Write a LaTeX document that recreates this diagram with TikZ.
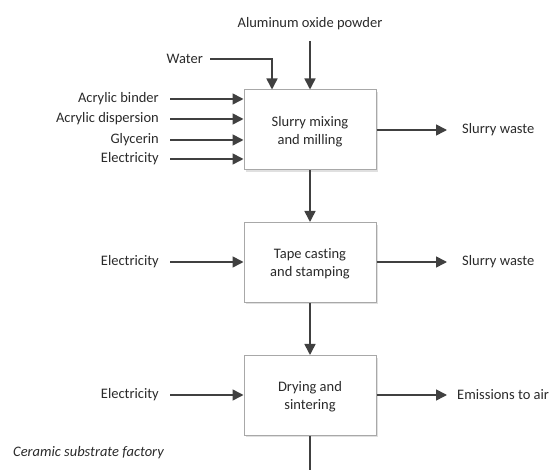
\documentclass[tikz,border=0pt]{standalone}
\usepackage{fontspec}
\setmainfont[Ligatures=NoCommon]{Carlito}
\usetikzlibrary{arrows.meta}
\definecolor{linecol}{HTML}{404040}
\definecolor{boxcol}{HTML}{A8A8A8}
\definecolor{txtcol}{HTML}{2A2A2A}
\begin{document}
\begin{tikzpicture}[x=1pt,y=-1pt,
  every node/.style={text=txtcol,font=\fontsize{14.5}{18}\selectfont},
  procbox/.style={draw=boxcol,line width=1pt,fill=white,minimum width=132pt,minimum height=80pt,align=center,inner sep=0pt},
  flow/.style={draw=linecol,line width=1.6pt,-{Triangle[length=11pt,width=11pt]}},
  plainflow/.style={draw=linecol,line width=1.6pt},
  lbl/.style={inner sep=0pt}]
\useasboundingbox (0,0) rectangle (555,470);
% shadows
\fill[black!12] (246,92) rectangle (378,172);
\fill[black!12] (246,225) rectangle (378,304);
\fill[black!12] (246,358) rectangle (378,437);
\node[procbox] (b1) at (310,130) {};
\node[procbox] (b2) at (310,262.5) {};
\node[procbox] (b3) at (310,395.5) {};
\node[lbl,align=center] (b1t) at (310,132) {Slurry mixing\\and milling};
\node[lbl,align=center] (b2t) at (310,264) {Tape cast\kern0pt ing\\and stamping};
\node[lbl,align=center] (b3t) at (310,397) {Drying and\\sintering};
% top inputs
\node[lbl] (alum) at (310,24) {Aluminum oxide powder};
\coordinate (alumS) at (310,41);
\draw[flow] (alumS) -- (b1.north);
\node[lbl,anchor=east] (water) at (203,59) {Water};
\coordinate (waterS) at (210,59);
\coordinate (waterC) at (272,59);
\draw[flow] (waterS) -- (waterC) -- (waterC |- b1.north);
% left inputs box 1
\node[lbl,anchor=east] (ab) at (159,99) {Acrylic binder};
\node[lbl,anchor=east] (ad) at (159,119) {Acrylic dispersion};
\node[lbl,anchor=east] (gl) at (159,140) {Glycerin};
\node[lbl,anchor=east] (el1) at (159,159) {Electricity};
\coordinate (s1) at (170,99);
\coordinate (s2) at (170,119);
\coordinate (s3) at (170,140);
\coordinate (s4) at (170,159);
\draw[flow] (s1) -- (s1 -| b1.west);
\draw[flow] (s2) -- (s2 -| b1.west);
\draw[flow] (s3) -- (s3 -| b1.west);
\draw[flow] (s4) -- (s4 -| b1.west);
% outputs box 1
\node[lbl,anchor=west] (sw1) at (462,130) {Slurry waste};
\coordinate (t1) at (447,130);
\draw[flow] (b1.east) -- (t1);
% box 1 -> box 2 -> box 3
\draw[flow] (b1.south) -- (b2.north);
\draw[flow] (b2.south) -- (b3.north);
% box 2
\node[lbl,anchor=east] (el2) at (159,262) {Electricity};
\coordinate (s5) at (170,262);
\draw[flow] (s5) -- (s5 -| b2.west);
\node[lbl,anchor=west] (sw2) at (462,262) {Slurry waste};
\coordinate (t2) at (447,262);
\draw[flow] (b2.east |- t2) -- (t2);
% box 3
\node[lbl,anchor=east] (el3) at (159,395) {Electricity};
\coordinate (s6) at (170,395);
\draw[flow] (s6) -- (s6 -| b3.west);
\node[lbl,anchor=west] (em) at (457,395) {Emissions to air};
\coordinate (t3) at (447,395);
\draw[flow] (b3.east |- t3) -- (t3);
\coordinate (bot) at (310,470);
\draw[plainflow] (b3.south) -- (bot);
% factory label
\node[lbl,anchor=west] (fac) at (13,453) {\itshape Ceramic substrate factory};
\end{tikzpicture}
\end{document}
